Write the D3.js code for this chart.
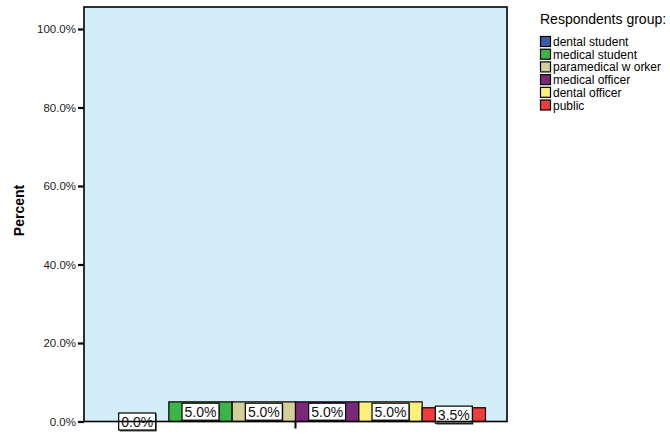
<!DOCTYPE html>
<html>
<head>
<meta charset="utf-8">
<script src="https://cdn.jsdelivr.net/npm/d3@7"></script>
<style>
  body { margin: 0; background: #fff; }
  text { font-family: "Liberation Sans", Arial, sans-serif; }
</style>
</head>
<body>
<div id="chart"></div>
<script>
// data
var groups = ["dental student", "medical student", "paramedical w orker", "medical officer", "dental officer", "public"];
var percents = [0.0, 5.0, 5.0, 5.0, 5.0, 3.5];
var colors = ["#3a5cac", "#3cb44a", "#d4ce9a", "#7b287c", "#faf07a", "#ef3c3c"];
var yTicks = [0, 20, 40, 60, 80, 100];
var legendTitle = "Respondents group:";
var yTitle = "Percent";

var width = 670, height = 434;
var plot = {left: 84, right: 507, top: 7, bottom: 421.5};

var svg = d3.select("#chart").append("svg")
    .attr("width", width)
    .attr("height", height);

var y = d3.scaleLinear()
    .domain([0, 105.6])
    .range([plot.bottom, plot.top]);

var x0 = d3.scaleBand()
    .domain(["all"])
    .range([plot.left, plot.right])
    .paddingOuter(0.0566);

var x1 = d3.scaleBand()
    .domain(groups)
    .range([0, x0.bandwidth()]);

var color = d3.scaleOrdinal().domain(groups).range(colors);

// plot background
svg.append("rect")
    .attr("x", plot.left)
    .attr("y", plot.top)
    .attr("width", plot.right - plot.left)
    .attr("height", plot.bottom - plot.top)
    .attr("fill", "#d3edf9");

var rows = groups.map(function(g, i) { return {group: g, value: percents[i]}; });

var bars = svg.append("g")
    .attr("transform", "translate(" + x0("all") + ",0)");

bars.selectAll("rect")
    .data(rows)
    .enter()
    .append("rect")
    .attr("x", function(d) { return x1(d.group); })
    .attr("y", function(d) { return y(d.value); })
    .attr("width", x1.bandwidth())
    .attr("height", function(d) { return y(0) - y(d.value); })
    .attr("fill", function(d) { return color(d.group); })
    .attr("stroke", "#000")
    .attr("stroke-width", 1.2);

// plot frame
svg.append("rect")
    .attr("x", plot.left)
    .attr("y", plot.top)
    .attr("width", plot.right - plot.left)
    .attr("height", plot.bottom - plot.top)
    .attr("fill", "none")
    .attr("stroke", "#000")
    .attr("stroke-width", 1.6);

// y axis
var yAxis = svg.append("g")
    .attr("transform", "translate(" + plot.left + ",0)")
    .call(d3.axisLeft(y)
        .tickValues(yTicks)
        .tickSize(6)
        .tickPadding(2)
        .tickFormat(function(d) { return d.toFixed(1) + "%"; }));
yAxis.select(".domain").remove();
yAxis.selectAll("line").attr("stroke", "#000").attr("stroke-width", 2.2);
yAxis.selectAll("text")
    .attr("font-size", "11.5px")
    .attr("fill", "#222")
    .style("font-family", "'Liberation Sans', Arial, sans-serif");

// x axis: single category tick
var xAxis = svg.append("g")
    .attr("transform", "translate(0," + plot.bottom + ")")
    .call(d3.axisBottom(x0).tickSize(7).tickFormat(""));
xAxis.select(".domain").remove();
xAxis.selectAll("line").attr("stroke", "#000").attr("stroke-width", 2);

svg.append("text")
    .attr("transform", "translate(24,210.5) rotate(-90)")
    .attr("text-anchor", "middle")
    .attr("font-size", "14px")
    .attr("font-weight", "bold")
    .text(yTitle);

// value labels
var labels = bars.selectAll(".lab")
    .data(rows)
    .enter()
    .append("g")
    .attr("class", "lab")
    .attr("transform", function(d) {
        var cy = (y(d.value) + y(0)) / 2;
        return "translate(" + (x1(d.group) + x1.bandwidth() / 2) + "," + cy + ")";
    });

labels.append("rect")
    .attr("x", -17.5)
    .attr("y", -7.5)
    .attr("width", 37)
    .attr("height", 17.5)
    .attr("fill", "#555");

labels.append("rect")
    .attr("x", -18.5)
    .attr("y", -8.5)
    .attr("width", 37)
    .attr("height", 17)
    .attr("fill", "#fff")
    .attr("stroke", "#000")
    .attr("stroke-width", 1.2);

labels.append("text")
    .attr("text-anchor", "middle")
    .attr("y", 5)
    .attr("font-size", "14px")
    .attr("fill", "#111")
    .text(function(d) { return d.value.toFixed(1) + "%"; });

// legend
var legend = svg.append("g").attr("transform", "translate(537,0)");
legend.append("text")
    .attr("x", 3)
    .attr("y", 24)
    .attr("font-size", "14px")
    .text(legendTitle);

var item = legend.selectAll(".item")
    .data(groups)
    .enter()
    .append("g")
    .attr("class", "item")
    .attr("transform", function(d, i) { return "translate(0," + (41.5 + i * 12.7) + ")"; });

item.append("rect")
    .attr("x", 3.5)
    .attr("y", -5)
    .attr("width", 10)
    .attr("height", 10)
    .attr("fill", function(d) { return color(d); })
    .attr("stroke", "#000")
    .attr("stroke-width", 1.2);

item.append("text")
    .attr("x", 16)
    .attr("y", 4.5)
    .attr("font-size", "12px")
    .text(function(d) { return d; });
</script>
</body>
</html>
